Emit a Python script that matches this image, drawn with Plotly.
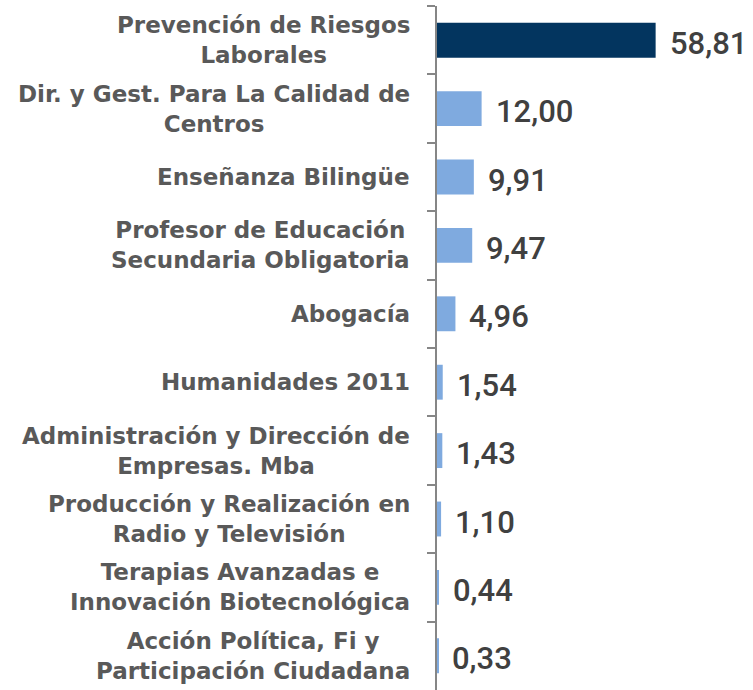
import plotly.graph_objects as go

categories = [
    "Prevención de Riesgos<br>Laborales",
    "Dir. y Gest. Para La Calidad de<br>Centros",
    "Enseñanza Bilingüe",
    "Profesor de Educación<br>Secundaria Obligatoria",
    "Abogacía",
    "Humanidades 2011",
    "Administración y Dirección de<br>Empresas. Mba",
    "Producción y Realización en<br>Radio y Televisión",
    "Terapias Avanzadas e<br>Innovación Biotecnológica",
    "Acción Política, Fi y<br>Participación Ciudadana",
]
values = [58.81, 12.00, 9.91, 9.47, 4.96, 1.54, 1.43, 1.10, 0.44, 0.33]
value_labels = ["58,81", "12,00", "9,91", "9,47", "4,96", "1,54", "1,43", "1,10", "0,44", "0,33"]
bar_colors = ["#03355F"] + ["#7FAADF"] * 9

fig = go.Figure(go.Bar(
    x=values, y=categories, orientation="h",
    marker=dict(color=bar_colors, line=dict(width=0)),
    width=0.51, hoverinfo="skip",
))

annotations = []
for c, v, t in zip(categories, values, value_labels):
    annotations.append(dict(x=v, y=c, xref="x", yref="y", text=t, showarrow=False,
                            xanchor="left", yanchor="middle", xshift=12, yshift=-3,
                            font=dict(family="Roboto", size=31, color="#404040", weight=500)))
    annotations.append(dict(x=0, y=c, xref="paper", yref="y", text=c, showarrow=False,
                            xanchor="right", yanchor="middle", xshift=-25, align="center",
                            font=dict(family="DejaVu Sans", size=23, color="#595959", weight="bold")))

fig.update_layout(
    width=753, height=690,
    margin=dict(l=437, r=0, t=6, b=0),
    paper_bgcolor="white", plot_bgcolor="white",
    showlegend=False,
    annotations=annotations,
    xaxis=dict(range=[0, 85], visible=False),
    yaxis=dict(autorange="reversed", showticklabels=False, showgrid=False, zeroline=False,
               showline=True, linecolor="#868686", linewidth=2,
               ticks="outside", tickson="boundaries", ticklen=8, tickcolor="#868686", tickwidth=2),
)

fig.write_html("out.html", config={"displayModeBar": False},
               post_script="document.body.style.margin='0px';")
